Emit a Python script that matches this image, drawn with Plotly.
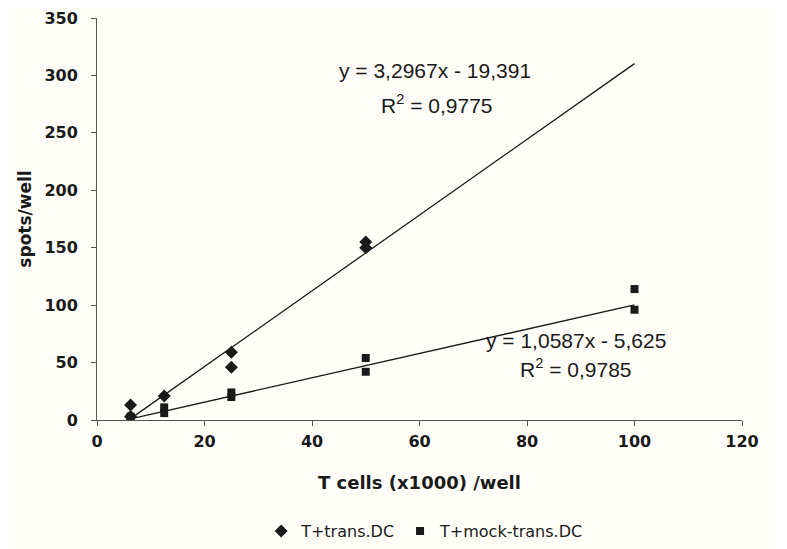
import plotly.graph_objects as go

# Data
trans_x = [6.25, 6.25, 12.5, 25, 25, 50, 50]
trans_y = [13, 3, 21, 59, 46, 155, 150]
mock_x = [6.25, 6.25, 12.5, 12.5, 25, 25, 50, 50, 100, 100]
mock_y = [3, 1, 11, 6, 24, 20, 54, 42, 114, 96]
fit_x = [6.25, 100]
trans_fit = (3.2967, -19.391)
mock_fit = (1.0587, -5.625)
x_ticks = [0, 20, 40, 60, 80, 100, 120]
y_ticks = [0, 50, 100, 150, 200, 250, 300, 350]

bg = "#fffef8"
ink = "#1a1a1a"
eqfont = "Liberation Sans, Arial, sans-serif"
tfont = "DejaVu Sans, sans-serif"

fig = go.Figure()
fig.add_trace(go.Scatter(x=fit_x, y=[trans_fit[0] * v + trans_fit[1] for v in fit_x],
                         mode="lines", line=dict(color=ink, width=1.3),
                         showlegend=False, hoverinfo="skip"))
fig.add_trace(go.Scatter(x=fit_x, y=[mock_fit[0] * v + mock_fit[1] for v in fit_x],
                         mode="lines", line=dict(color=ink, width=1.3),
                         showlegend=False, hoverinfo="skip"))
fig.add_trace(go.Scatter(x=trans_x, y=trans_y, mode="markers", name="T+trans.DC",
                         marker=dict(symbol="diamond", size=10, color=ink)))
fig.add_trace(go.Scatter(x=mock_x, y=mock_y, mode="markers", name="T+mock-trans.DC",
                         marker=dict(symbol="square", size=8, color=ink)))

eq = dict(size=21, color=ink, family=eqfont)
fig.add_annotation(x=62.9, y=304.7, xref="x", yref="y", showarrow=False,
                   text="y = 3,2967x - 19,391", font=eq)
fig.add_annotation(x=63.3, y=275, xref="x", yref="y", showarrow=False,
                   text="R<sup>2</sup> = 0,9775", font=eq)
fig.add_annotation(x=89.1, y=68.8, xref="x", yref="y", showarrow=False,
                   text="y = 1,0587x - 5,625", font=eq)
fig.add_annotation(x=89.1, y=45.3, xref="x", yref="y", showarrow=False,
                   text="R<sup>2</sup> = 0,9785", font=eq)

fig.update_layout(
    width=779, height=541,
    margin=dict(l=89, r=45, t=10, b=129, autoexpand=False),
    paper_bgcolor=bg, plot_bgcolor=bg,
    font=dict(family=tfont, color=ink, size=16),
    legend=dict(orientation="h", x=0.508, xanchor="center", y=-0.234, yanchor="top",
                font=dict(size=16, family=tfont), itemsizing="trace",
                bgcolor="rgba(0,0,0,0)"),
    xaxis=dict(range=[0, 120], tickvals=x_ticks, showgrid=False, zeroline=False,
               showline=True, linecolor="#555555", linewidth=1,
               ticks="outside", ticklen=5, tickcolor="#555555",
               ticklabelstandoff=2, automargin=False,
               tickfont=dict(size=16, family=tfont, weight="bold"),
               title=dict(text="<b>T cells (x1000) /well</b>",
                          font=dict(size=18, family=tfont), standoff=26)),
    yaxis=dict(range=[0, 350], tickvals=y_ticks, showgrid=False, zeroline=False,
               showline=True, linecolor="#555555", linewidth=1,
               ticks="outside", ticklen=5, tickcolor="#555555",
               ticklabelstandoff=10, automargin=False,
               tickfont=dict(size=16, family=tfont, weight="bold"),
               title=dict(text="<b>spots/well</b>",
                          font=dict(size=17, family=tfont), standoff=8)),
)

fig.write_html("out.html")
